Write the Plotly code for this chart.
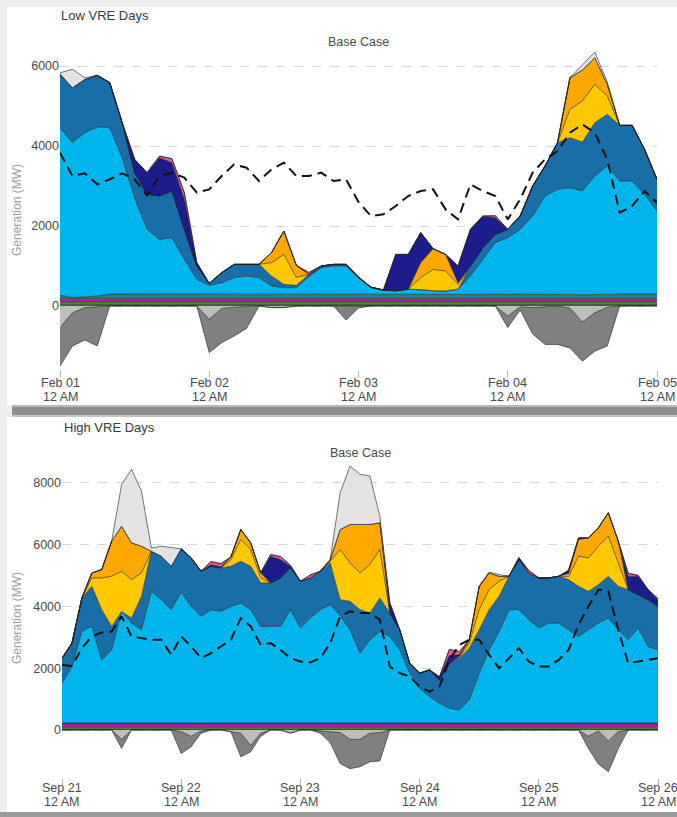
import numpy as np
import pandas as pd
import plotly.graph_objects as go

W, H = 677, 817

# ---------------- Low VRE days (Feb 01 - Feb 05, 2-hourly) ----------------
low_start = "2023-02-01"
low_tick_vals = ["2023-02-01", "2023-02-02", "2023-02-03", "2023-02-04", "2023-02-05"]
low_tick_day = ["Feb 01", "Feb 02", "Feb 03", "Feb 04", "Feb 05"]
low_tick_time = ["12 AM", "12 AM", "12 AM", "12 AM", "12 AM"]

low_green_dark = [45] * 49
low_green_light = [55] * 49
low_magenta = [90] * 49
low_teal = [80, 20, 40, 60, 110, 110, 110, 110, 110, 110,
            110, 110, 110, 110, 110, 110, 110, 110, 110, 110,
            110, 110, 110, 110, 110, 110, 110, 110, 110, 110,
            110, 110, 110, 110, 110, 110, 110, 110, 110, 110,
            110, 100, 90, 90, 100, 110, 110, 110, 110]
# upper edges of the two large layers (MW)
low_cyan_top = [4458, 4080, 4333, 4475, 4458, 3700, 2700, 1916, 1666, 1708,
                1166, 666, 516, 583, 708, 750, 708, 500, 458, 458,
                733, 958, 1000, 1000, 700, 458, 390, 375, 416, 400,
                375, 370, 416, 750, 1166, 1583, 1708, 1916, 2250, 2750,
                2916, 2958, 2875, 3250, 3500, 3125, 3125, 2790, 2375]
low_steel_top = [5800, 5458, 5666, 5766, 5583, 4583, 3333, 2791, 2750, 2875,
                 1916, 1000, 566, 833, 1041, 1041, 1041, 750, 541, 516,
                 790, 1000, 1041, 1041, 720, 470, 400, 380, 420, 410,
                 380, 375, 420, 1000, 1458, 1791, 1916, 2250, 3000, 3500,
                 4083, 4208, 4100, 4583, 4791, 4516, 4516, 3916, 3166]
low_yellow = [0, 0, 0, 0, 0, 0, 0, 0, 0, 0,
              0, 0, 0, 0, 0, 0, 0, 333, 750, 200,
              0, 0, 0, 0, 0, 0, 0, 0, 0, 300,
              536, 500, 121, 0, 0, 0, 0, 0, 0, 0,
              0, 708, 1025, 958, 459, 0, 0, 0, 0]
low_orange = [0, 0, 0, 0, 0, 0, 0, 0, 0, 0,
              0, 0, 0, 0, 0, 0, 0, 250, 584, 300,
              0, 0, 0, 0, 0, 0, 0, 0, 0, 375,
              517, 416, 42, 0, 0, 0, 0, 0, 0, 0,
              0, 792, 775, 667, 300, 0, 0, 0, 0]
low_navy = [0, 0, 0, 0, 0, 0, 333, 540, 958, 708,
            750, 83, 0, 0, 0, 0, 0, 0, 0, 0,
            0, 0, 0, 0, 0, 0, 0, 910, 870, 750,
            0, 0, 417, 916, 792, 417, 0, 0, 0, 0,
            0, 0, 0, 0, 0, 0, 0, 0, 0]
low_pink = [0, 0, 0, 0, 0, 0, 0, 0, 40, 100,
            167, 0, 0, 0, 0, 0, 0, 0, 0, 0,
            50, 0, 0, 0, 0, 0, 0, 0, 0, 0,
            0, 0, 0, 0, 0, 50, 0, 0, 0, 0,
            0, 0, 0, 0, 0, 0, 0, 0, 0]
low_gray = [30, 460, 40, 0, 0, 0, 0, 0, 0, 0,
            0, 0, 0, 0, 0, 0, 0, 0, 0, 0,
            0, 0, 0, 0, 0, 0, 0, 0, 0, 0,
            0, 0, 0, 0, 0, 0, 0, 0, 0, 0,
            0, 0, 140, 140, 50, 0, 0, 0, 0]
low_neg_light = [-541, -170, -40, -20, 0, 0, 0, 0, 0, 0,
                 0, 0, -333, -60, -30, -20, 0, -40, -40, 0,
                 0, 0, 0, 0, 0, 0, 0, 0, 0, 0,
                 0, 0, 0, 0, 0, 0, -250, -20, -40, -20,
                 0, -50, -400, -170, -30, 0, 0, 0, 0]
low_neg_dark = [-959, -830, -810, -980, 0, 0, 0, 0, 0, 0,
                0, 0, -833, -856, -720, -540, 0, 0, 0, 0,
                0, 0, 0, -350, -50, 0, 0, 0, 0, 0,
                0, 0, 0, 0, 0, 0, -290, -80, -660, -940,
                -960, -1000, -980, -960, -970, 0, 0, 0, 0]
low_load = [3833, 3250, 3316, 3041, 3166, 3316, 3166, 2766, 3250, 3333,
            3208, 2833, 2916, 3250, 3541, 3458, 3125, 3416, 3583, 3250,
            3250, 3333, 3125, 3166, 2600, 2250, 2291, 2500, 2750, 2875,
            2916, 2416, 2166, 3041, 2875, 2750, 2166, 2666, 3333, 3666,
            3875, 4333, 4541, 4333, 3666, 2333, 2500, 2875, 2583]

# ---------------- High VRE days (Sep 21 - Sep 26, 2-hourly) ----------------
high_start = "2023-09-21"
high_tick_vals = ["2023-09-21", "2023-09-22", "2023-09-23", "2023-09-24", "2023-09-25", "2023-09-26"]
high_tick_day = ["Sep 21", "Sep 22", "Sep 23", "Sep 24", "Sep 25", "Sep 26"]
high_tick_time = ["12 AM", "12 AM", "12 AM", "12 AM", "12 AM", "12 AM"]

high_green_dark = [40] * 61
high_green_light = [50] * 61
high_magenta = [110] * 61
high_teal = [30] * 61
high_cyan_top = [1513, 2054, 3189, 3351, 2270, 2594, 3837, 3459, 3243, 4486,
                 4216, 3892, 4454, 4000, 3675, 3892, 3837, 4000, 4108, 3892,
                 3351, 3351, 3351, 3892, 3297, 3621, 3892, 4054, 3700, 3243,
                 2486, 2919, 3189, 3027, 2594, 1838, 1351, 1081, 865, 703,
                 649, 973, 1838, 2594, 3189, 3892, 3892, 3567, 3297, 3459,
                 3459, 3243, 3027, 3243, 3459, 3621, 3243, 2919, 3297, 2703,
                 2594]
high_steel_top = [2324, 2810, 4270, 4648, 3892, 3351, 3784, 3621, 4324, 5783,
                  5621, 5297, 5859, 5567, 5135, 5297, 5243, 5297, 5459, 5297,
                  4756, 4756, 4919, 5243, 4810, 4919, 5135, 5405, 4216, 4162,
                  3892, 3784, 4270, 3784, 3243, 2162, 1838, 1946, 1622, 2162,
                  2324, 2649, 3243, 3892, 4324, 4973, 5513, 5081, 4919, 4919,
                  4973, 4865, 4648, 4486, 4702, 4973, 4648, 4540, 4378, 4216,
                  4000]
high_yellow = [0, 0, 0, 270, 1026, 1622, 1297, 1244, 757, 0,
               0, 0, 0, 0, 0, 0, 0, 200, 703, 541,
               162, 0, 0, 0, 0, 0, 0, 50, 1622, 1243,
               1189, 1567, 1568, 0, 0, 0, 0, 0, 0, 0,
               30, 161, 649, 648, 486, 0, 0, 0, 0, 0,
               0, 100, 973, 1081, 1244, 1297, 757, 0, 0, 0,
               0]
high_orange = [0, 0, 0, 160, 271, 1135, 1459, 1189, 865, 0,
               0, 0, 0, 0, 0, 0, 0, 100, 324, 216,
               163, 0, 0, 0, 0, 0, 0, 50, 648, 1243,
               1567, 1297, 864, 0, 0, 0, 0, 0, 0, 0,
               30, 108, 756, 541, 163, 0, 0, 0, 0, 0,
               0, 100, 541, 649, 594, 757, 703, 0, 0, 0,
               0]
high_navy = [0, 0, 0, 0, 0, 0, 0, 0, 0, 0,
             0, 0, 0, 0, 0, 50, 40, 0, 0, 0,
             0, 865, 594, 54, 0, 0, 0, 0, 0, 0,
             0, 0, 0, 324, 0, 0, 0, 0, 100, 250,
             50, 0, 0, 0, 0, 0, 60, 0, 0, 0,
             0, 100, 50, 0, 0, 0, 0, 433, 595, 324,
             216]
high_pink = [0, 0, 0, 0, 0, 0, 0, 0, 0, 0,
             0, 0, 0, 0, 0, 100, 100, 0, 0, 0,
             0, 54, 100, 30, 0, 100, 0, 0, 0, 0,
             0, 0, 0, 0, 0, 0, 0, 0, 0, 200,
             100, 0, 0, 0, 0, 0, 0, 80, 0, 0,
             0, 0, 0, 0, 0, 0, 0, 100, 30, 0,
             30]
high_gray = [0, 0, 0, 0, 0, 0, 1351, 2378, 1783, 100,
             324, 594, 0, 0, 0, 0, 0, 0, 0, 0,
             0, 0, 0, 0, 0, 0, 0, 0, 1189, 1892,
             1622, 1568, 216, 0, 0, 0, 0, 0, 0, 0,
             0, 0, 0, 30, 54, 0, 0, 0, 0, 0,
             0, 0, 0, 0, 0, 0, 0, 0, 0, 0,
             0]
high_neg_light = [0, 0, 0, 0, 0, 0, -300, 0, 0, 0,
                  0, 0, -50, -200, -30, 0, 0, -50, -100, -500,
                  -100, 0, 0, -100, 0, 0, -30, -50, -80, -300,
                  -300, -100, -80, 0, 0, 0, 0, 0, 0, 0,
                  0, 0, 0, 0, 0, 0, 0, 0, 0, 0,
                  0, 0, 0, -200, -30, -350, -50, 0, 0, 0,
                  0]
high_neg_dark = [0, 0, 0, 0, 0, 0, -290, 0, 0, 0,
                 0, 0, -707, -340, -70, 0, 0, 0, -765, -200,
                 -100, 0, 0, 0, 0, 0, -70, -350, -1000, -950,
                 -886, -924, -920, 0, 0, 0, 0, 0, 0, 0,
                 0, 0, 0, 0, 0, 0, 0, 0, 0, 0,
                 0, 0, 0, -400, -1070, -1000, -550, 0, 0, 0,
                 0]
high_load = [2108, 2075, 2648, 3027, 3157, 3189, 3675, 3027, 2973, 2919,
             2919, 2432, 3027, 2703, 2324, 2486, 2703, 2919, 3621, 3351,
             2756, 2810, 2594, 2324, 2216, 2184, 2324, 2810, 3675, 3838,
             3784, 3784, 3567, 2054, 1838, 1730, 1405, 1243, 1405, 2270,
             2756, 2919, 2919, 2432, 2000, 2324, 2648, 2216, 2054, 2054,
             2270, 2594, 3405, 4000, 4540, 4486, 3243, 2162, 2216, 2248,
             2324]

# ---------------- styling ----------------
COLORS = {
    "green_dark": "#2f6b22",
    "green_light": "#5e9b3a",
    "magenta": "#b0259e",
    "teal": "#1f8090",
    "cyan": "#00b5ec",
    "steel": "#1a6ea8",
    "yellow": "#ffc800",
    "orange": "#ffa800",
    "navy": "#1c1c8c",
    "pink": "#ef5a8e",
    "gray": "#e3e3e3",
    "neg_light": "#bdbdbd",
    "neg_dark": "#808080",
}
FONT = "Liberation Sans, Arial, sans-serif"
OUTLINE = dict(color="#1e1e1e", width=0.6)
TEXT_GRAY = "#4a4a4a"


def px_x(p):
    return p / W


def px_y(p):
    return 1 - p / H


fig = go.Figure()


def add_panel(t, layers, cyan_top, steel_top, extras, negs, load, xa, ya, tag):
    base = np.zeros(len(t))
    for name, vals in layers:
        base = base + np.array(vals, dtype=float)
    cyan = np.maximum(np.array(cyan_top, float) - base, 0)
    steel = np.maximum(np.array(steel_top, float) - np.array(cyan_top, float), 0)
    series = list(layers) + [("cyan", cyan), ("steel", steel)] + list(extras)
    for name, vals in series:
        fig.add_trace(go.Scatter(
            x=t, y=vals, mode="lines", stackgroup="pos" + tag,
            line=OUTLINE, fillcolor=COLORS[name], name=name,
            xaxis=xa, yaxis=ya, showlegend=False, hoverinfo="skip"))
    for name, vals in negs:
        fig.add_trace(go.Scatter(
            x=t, y=vals, mode="lines", stackgroup="neg" + tag,
            line=OUTLINE, fillcolor=COLORS[name], name=name,
            xaxis=xa, yaxis=ya, showlegend=False, hoverinfo="skip"))
    fig.add_trace(go.Scatter(
        x=t, y=load, mode="lines", line=dict(color="#111111", width=2, dash="10px,6px"),
        xaxis=xa, yaxis=ya, showlegend=False, hoverinfo="skip"))


t_low = pd.date_range(low_start, periods=len(low_load), freq="2h")
t_high = pd.date_range(high_start, periods=len(high_load), freq="2h")

add_panel(
    t_low,
    [("green_dark", low_green_dark), ("green_light", low_green_light),
     ("magenta", low_magenta), ("teal", low_teal)],
    low_cyan_top, low_steel_top,
    [("yellow", low_yellow), ("orange", low_orange), ("navy", low_navy),
     ("pink", low_pink), ("gray", low_gray)],
    [("neg_light", low_neg_light), ("neg_dark", low_neg_dark)],
    low_load, "x", "y", "1")

add_panel(
    t_high,
    [("green_dark", high_green_dark), ("green_light", high_green_light),
     ("magenta", high_magenta), ("teal", high_teal)],
    high_cyan_top, high_steel_top,
    [("yellow", high_yellow), ("orange", high_orange), ("navy", high_navy),
     ("pink", high_pink), ("gray", high_gray)],
    [("neg_light", high_neg_light), ("neg_dark", high_neg_dark)],
    high_load, "x2", "y2", "2")

tick_font = dict(family=FONT, size=12.5, color=TEXT_GRAY)
common_x = dict(type="date", showgrid=False, zeroline=False, showline=False, automargin=False,
                ticks="outside", ticklen=6, tickcolor="#b5b5b5", showticklabels=False)
common_y = dict(showgrid=True, gridcolor="#d6d6d6", griddash="dash", gridwidth=1, automargin=False,
                zeroline=False, showline=False, ticks="", tickfont=tick_font,
                tickmode="linear", tick0=0, dtick=2000)

fig.update_layout(
    width=W, height=H, autosize=False,
    margin=dict(l=0, r=0, t=0, b=0, pad=0, autoexpand=False),
    paper_bgcolor="#eeeeee",
    plot_bgcolor="rgba(0,0,0,0)",
    font=dict(family=FONT),
    xaxis=dict(common_x, domain=[px_x(60), px_x(657)], anchor="y",
               range=[low_tick_vals[0], low_tick_vals[-1]], tickvals=low_tick_vals),
    yaxis=dict(common_y, domain=[px_y(370), px_y(50)], anchor="x", range=[-1600, 6400]),
    xaxis2=dict(common_x, domain=[px_x(62), px_x(658)], anchor="y2",
                range=[high_tick_vals[0], high_tick_vals[-1]], tickvals=high_tick_vals),
    yaxis2=dict(common_y, domain=[px_y(778), px_y(461)], anchor="x2", range=[-1550, 8700]),
)

shapes = [
    # white panels
    dict(type="rect", xref="paper", yref="paper", x0=px_x(7), x1=1, y0=px_y(405), y1=px_y(7),
         fillcolor="white", line=dict(width=0), layer="below"),
    dict(type="rect", xref="paper", yref="paper", x0=px_x(7), x1=1, y0=px_y(812), y1=px_y(417),
         fillcolor="white", line=dict(width=0), layer="below"),
    # shadow band between panels
    dict(type="rect", xref="paper", yref="paper", x0=px_x(12), x1=1, y0=px_y(417), y1=px_y(405),
         fillcolor="#8e8e8e", line=dict(width=0), layer="below"),
    dict(type="rect", xref="paper", yref="paper", x0=px_x(12), x1=1, y0=px_y(407), y1=px_y(405),
         fillcolor="#b8b8b8", line=dict(width=0), layer="below"),
    dict(type="rect", xref="paper", yref="paper", x0=px_x(12), x1=1, y0=px_y(417), y1=px_y(415),
         fillcolor="#c4c4c4", line=dict(width=0), layer="below"),
    # bottom edge
    dict(type="rect", xref="paper", yref="paper", x0=0, x1=1, y0=0, y1=px_y(812),
         fillcolor="#9a9a9a", line=dict(width=0), layer="below"),
]
fig.update_layout(shapes=shapes)

ann = []
ann.append(dict(text="Low VRE Days", x=px_x(59), y=px_y(16), xref="paper", yref="paper",
                xanchor="left", yanchor="middle", showarrow=False,
                font=dict(family=FONT, size=13, color="#3a3a3a")))
ann.append(dict(text="Base Case", x=px_x(358), y=px_y(42), xref="paper", yref="paper",
                xanchor="center", yanchor="middle", showarrow=False,
                font=dict(family=FONT, size=12.5, color=TEXT_GRAY)))
ann.append(dict(text="High VRE Days", x=px_x(62), y=px_y(427), xref="paper", yref="paper",
                xanchor="left", yanchor="middle", showarrow=False,
                font=dict(family=FONT, size=13, color="#3a3a3a")))
ann.append(dict(text="Base Case", x=px_x(360), y=px_y(453), xref="paper", yref="paper",
                xanchor="center", yanchor="middle", showarrow=False,
                font=dict(family=FONT, size=12.5, color=TEXT_GRAY)))
for yc in (210, 618):
    ann.append(dict(text="Generation (MW)", x=px_x(17), y=px_y(yc), xref="paper", yref="paper",
                    xanchor="center", yanchor="middle", showarrow=False, textangle=-90,
                    font=dict(family=FONT, size=12, color="#a0a0a0")))

# two-line x tick labels, placed on the date axes
for xref, vals, days, times, y1, y2 in (
        ("x", low_tick_vals, low_tick_day, low_tick_time, 383, 397),
        ("x2", high_tick_vals, high_tick_day, high_tick_time, 788, 802)):
    for v, d, tm in zip(vals, days, times):
        for txt, yy in ((d, y1), (tm, y2)):
            ann.append(dict(text=txt, x=v, xref=xref, y=px_y(yy), yref="paper",
                            xanchor="center", yanchor="middle", showarrow=False,
                            font=dict(family=FONT, size=12.5, color=TEXT_GRAY)))
fig.update_layout(annotations=ann)

fig.write_html(
    "out.html",
    config={"responsive": False, "displayModeBar": False},
    post_script="document.body.style.margin='0px';document.body.style.overflow='hidden';",
)
